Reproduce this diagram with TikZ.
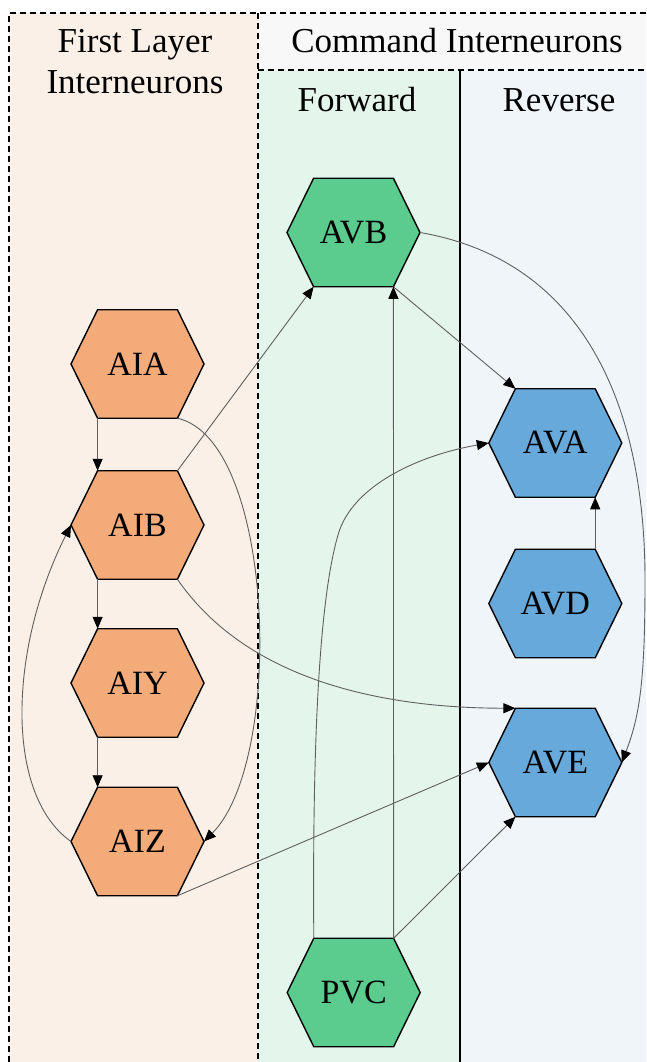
\documentclass[tikz,border=0pt]{standalone}
\usepackage{fontspec}
\setmainfont{Liberation Serif}
\usetikzlibrary{arrows.meta}
\makeatletter
\pgfdeclareshape{hexa}{%
  \inheritsavedanchors[from=rectangle]%
  \inheritanchorborder[from=rectangle]%
  \inheritanchor[from=rectangle]{center}%
  \inheritanchor[from=rectangle]{north}%
  \inheritanchor[from=rectangle]{south}%
  \inheritanchor[from=rectangle]{west}%
  \inheritanchor[from=rectangle]{east}%
  \inheritanchor[from=rectangle]{text}%
  \anchor{north west}{\southwest\pgf@xa=\pgf@x\northeast\pgf@xb=\pgf@x\pgf@x=.8\pgf@xa\advance\pgf@x by .2\pgf@xb}%
  \anchor{north east}{\southwest\pgf@xa=\pgf@x\northeast\pgf@xb=\pgf@x\pgf@x=.2\pgf@xa\advance\pgf@x by .8\pgf@xb}%
  \anchor{south west}{\northeast\pgf@xb=\pgf@x\southwest\pgf@xa=\pgf@x\pgf@x=.8\pgf@xa\advance\pgf@x by .2\pgf@xb}%
  \anchor{south east}{\northeast\pgf@xb=\pgf@x\southwest\pgf@xa=\pgf@x\pgf@x=.2\pgf@xa\advance\pgf@x by .8\pgf@xb}%
  \backgroundpath{%
    \southwest \pgf@xa=\pgf@x \pgf@ya=\pgf@y
    \northeast \pgf@xb=\pgf@x \pgf@yb=\pgf@y
    \pgf@xc=.8\pgf@xa \advance\pgf@xc by .2\pgf@xb
    \pgf@yc=.5\pgf@ya \advance\pgf@yc by .5\pgf@yb
    \pgfutil@tempdima=.2\pgf@xa \advance\pgfutil@tempdima by .8\pgf@xb
    \edef\hx@a{\the\pgf@xa}\edef\hx@b{\the\pgf@xb}%
    \edef\hx@c{\the\pgf@xc}\edef\hx@d{\the\pgfutil@tempdima}%
    \edef\hy@a{\the\pgf@ya}\edef\hy@b{\the\pgf@yb}\edef\hy@m{\the\pgf@yc}%
    \pgfpathmoveto{\pgfqpoint{\hx@a}{\hy@m}}%
    \pgfpathlineto{\pgfqpoint{\hx@c}{\hy@b}}%
    \pgfpathlineto{\pgfqpoint{\hx@d}{\hy@b}}%
    \pgfpathlineto{\pgfqpoint{\hx@b}{\hy@m}}%
    \pgfpathlineto{\pgfqpoint{\hx@d}{\hy@a}}%
    \pgfpathlineto{\pgfqpoint{\hx@c}{\hy@a}}%
    \pgfpathclose
  }%
}
\makeatother
\definecolor{peachbg}{RGB}{250,240,232}
\definecolor{hdrbg}{RGB}{248,248,248}
\definecolor{fwdbg}{RGB}{228,245,236}
\definecolor{revbg}{RGB}{240,245,250}
\definecolor{orangehex}{RGB}{243,171,121}
\definecolor{greenhex}{RGB}{91,204,142}
\definecolor{bluehex}{RGB}{102,169,218}
\definecolor{edgegray}{RGB}{95,95,95}
\tikzset{
  hexnode/.style={shape=hexa, draw=black, line width=1.4pt, line join=miter,
    minimum width=133pt, minimum height=108.5pt, inner sep=0pt, outer sep=0pt,
    font=\fontsize{34}{40}\selectfont},
  firstl/.style={hexnode, fill=orangehex},
  fwdn/.style={hexnode, fill=greenhex},
  revn/.style={hexnode, fill=bluehex},
  headtext/.style={anchor=base, inner sep=0pt, font=\fontsize{35}{40}\selectfont},
  dashline/.style={draw=black, line width=1.3pt, dash pattern=on 6pt off 4pt},
  divline/.style={draw=black, line width=1.5pt},
  conn/.style={draw=edgegray, line width=0.9pt, -{Triangle[length=12pt,width=10pt,color=black]}}
}
\begin{document}
\begin{tikzpicture}[x=1pt,y=-1pt]
\useasboundingbox (0,0) rectangle (646,1062);
% backgrounds
\fill[white] (0,0) rectangle (646,1062);
\fill[peachbg] (9,13) rectangle (258,1062);
\fill[hdrbg] (258,13) rectangle (646,70);
\fill[fwdbg] (258,70) rectangle (460,1062);
\fill[revbg] (460,70) rectangle (646,1062);
\draw[dashline] (9,1062) -- (9,13) -- (646,13);
\draw[dashline] (258,13) -- (258,1062);
\draw[dashline] (258,70) -- (646,70);
\draw[divline] (460,70) -- (460,1062);
% headers
\node[headtext] (h1) at (135,53) {First Layer};
\node[headtext] (h2) at (135,94) {Interneurons};
\node[headtext] (h3) at (457,53) {Command Interneurons};
\node[headtext] (h4) at (357,112) {Forward};
\node[headtext] (h5) at (559,112) {Reverse};
% neurons
\node[firstl] (AIA) at (137.5,364) {AIA};
\node[firstl] (AIB) at (137.5,525) {AIB};
\node[firstl] (AIY) at (137.5,683) {AIY};
\node[firstl] (AIZ) at (137.5,841.5) {AIZ};
\node[fwdn] (AVB) at (353.5,232.5) {AVB};
\node[fwdn] (PVC) at (353.7,992.5) {PVC};
\node[revn] (AVA) at (555.3,443) {AVA};
\node[revn] (AVD) at (555.3,603.5) {AVD};
\node[revn] (AVE) at (555.3,762.5) {AVE};
% connections
\draw[conn] (AIA.south west) -- (AIB.north west);
\draw[conn] (AIB.south west) -- (AIY.north west);
\draw[conn] (AIY.south west) -- (AIZ.north west);
\draw[conn] (AIZ.west) .. controls (5,795) and (8,650) .. (AIB.west);
\draw[conn] (AIA.south east) .. controls (275,440) and (285,760) .. (AIZ.east);
\draw[conn] (AIB.north east) -- (AVB.south west);
\draw[conn] (AIB.south east) .. controls (240,670) and (360,708) .. (AVE.north west);
\draw[conn] (AIZ.south east) -- (AVE.west);
\draw[conn] (AVB.south east) -- (AVA.north west);
\draw[conn] (AVB.east) .. controls (580,260) and (645,400) .. (645,580) .. controls (645,680) and (640,715) .. (AVE.east);
\draw[conn] (PVC.north east) -- (AVB.south east);
\draw[conn] (PVC.north west) .. controls (312,710) and (322,590) .. (338,535) .. controls (352,485) and (420,455) .. (AVA.west);
\draw[conn] (PVC.north east) -- (AVE.south west);
\draw[conn] (AVD.north east) -- (AVA.south east);
\end{tikzpicture}
\end{document}
